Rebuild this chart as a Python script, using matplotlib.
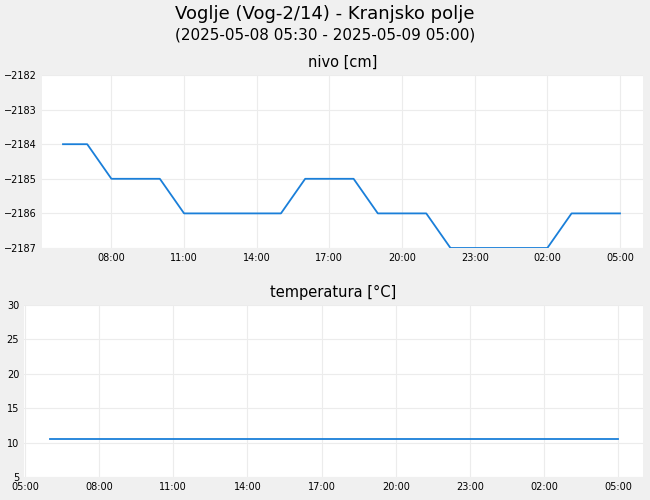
import matplotlib
matplotlib.use("Agg")
import matplotlib.pyplot as plt
import matplotlib.dates as mdates
import pandas as pd

times = pd.date_range("2025-05-08 06:00", "2025-05-09 05:00", freq="h")
nivo = [-2184, -2184, -2185, -2185, -2185, -2186, -2186, -2186, -2186, -2186,
        -2185, -2185, -2185, -2186, -2186, -2186, -2187, -2187, -2187, -2187,
        -2187, -2186, -2186, -2186]
temp = [10.5] * 24

fig = plt.figure(figsize=(6.5, 5), dpi=100, facecolor="#f0f0f0")
fig.text(0.5, 0.972, "Voglje (Vog-2/14) - Kranjsko polje", ha="center", va="center", fontsize=13)
fig.text(0.5, 0.931, "(2025-05-08 05:30 - 2025-05-09 05:00)", ha="center", va="center", fontsize=11)

ax1 = fig.add_axes([42/650, 1-248/500, 601/650, 173/500])
ax2 = fig.add_axes([24/650, 1-477/500, 619/650, 172/500])
col = "#1a7fd9"
xl = (pd.Timestamp("2025-05-08 05:08"), pd.Timestamp("2025-05-09 05:57"))
for ax, y, title in [(ax1, nivo, "nivo [cm]"), (ax2, temp, "temperatura [°C]")]:
    ax.plot(times, y, color=col, lw=1.3)
    ax.set_facecolor("white")
    ax.set_title(title, fontsize=10.5, pad=6)
    ax.grid(True, color="#ececec", lw=0.8)
    for s in ax.spines.values():
        s.set_visible(False)
    ax.tick_params(length=0, labelsize=7)
    ax.xaxis.set_major_locator(mdates.HourLocator(byhour=[8, 11, 14, 17, 20, 23, 2, 5]))
    ax.xaxis.set_major_formatter(mdates.DateFormatter("%H:%M"))
    ax.set_xlim(*xl)
ax1.set_ylim(-2187, -2182)
ax1.set_yticks(range(-2187, -2181))
ax2.set_ylim(5, 30)
ax2.set_yticks(range(5, 31, 5))
xl2 = (pd.Timestamp("2025-05-08 04:58"), pd.Timestamp("2025-05-09 06:00"))
ax2.set_xlim(*xl2)
fig.savefig("out.png", facecolor=fig.get_facecolor())
